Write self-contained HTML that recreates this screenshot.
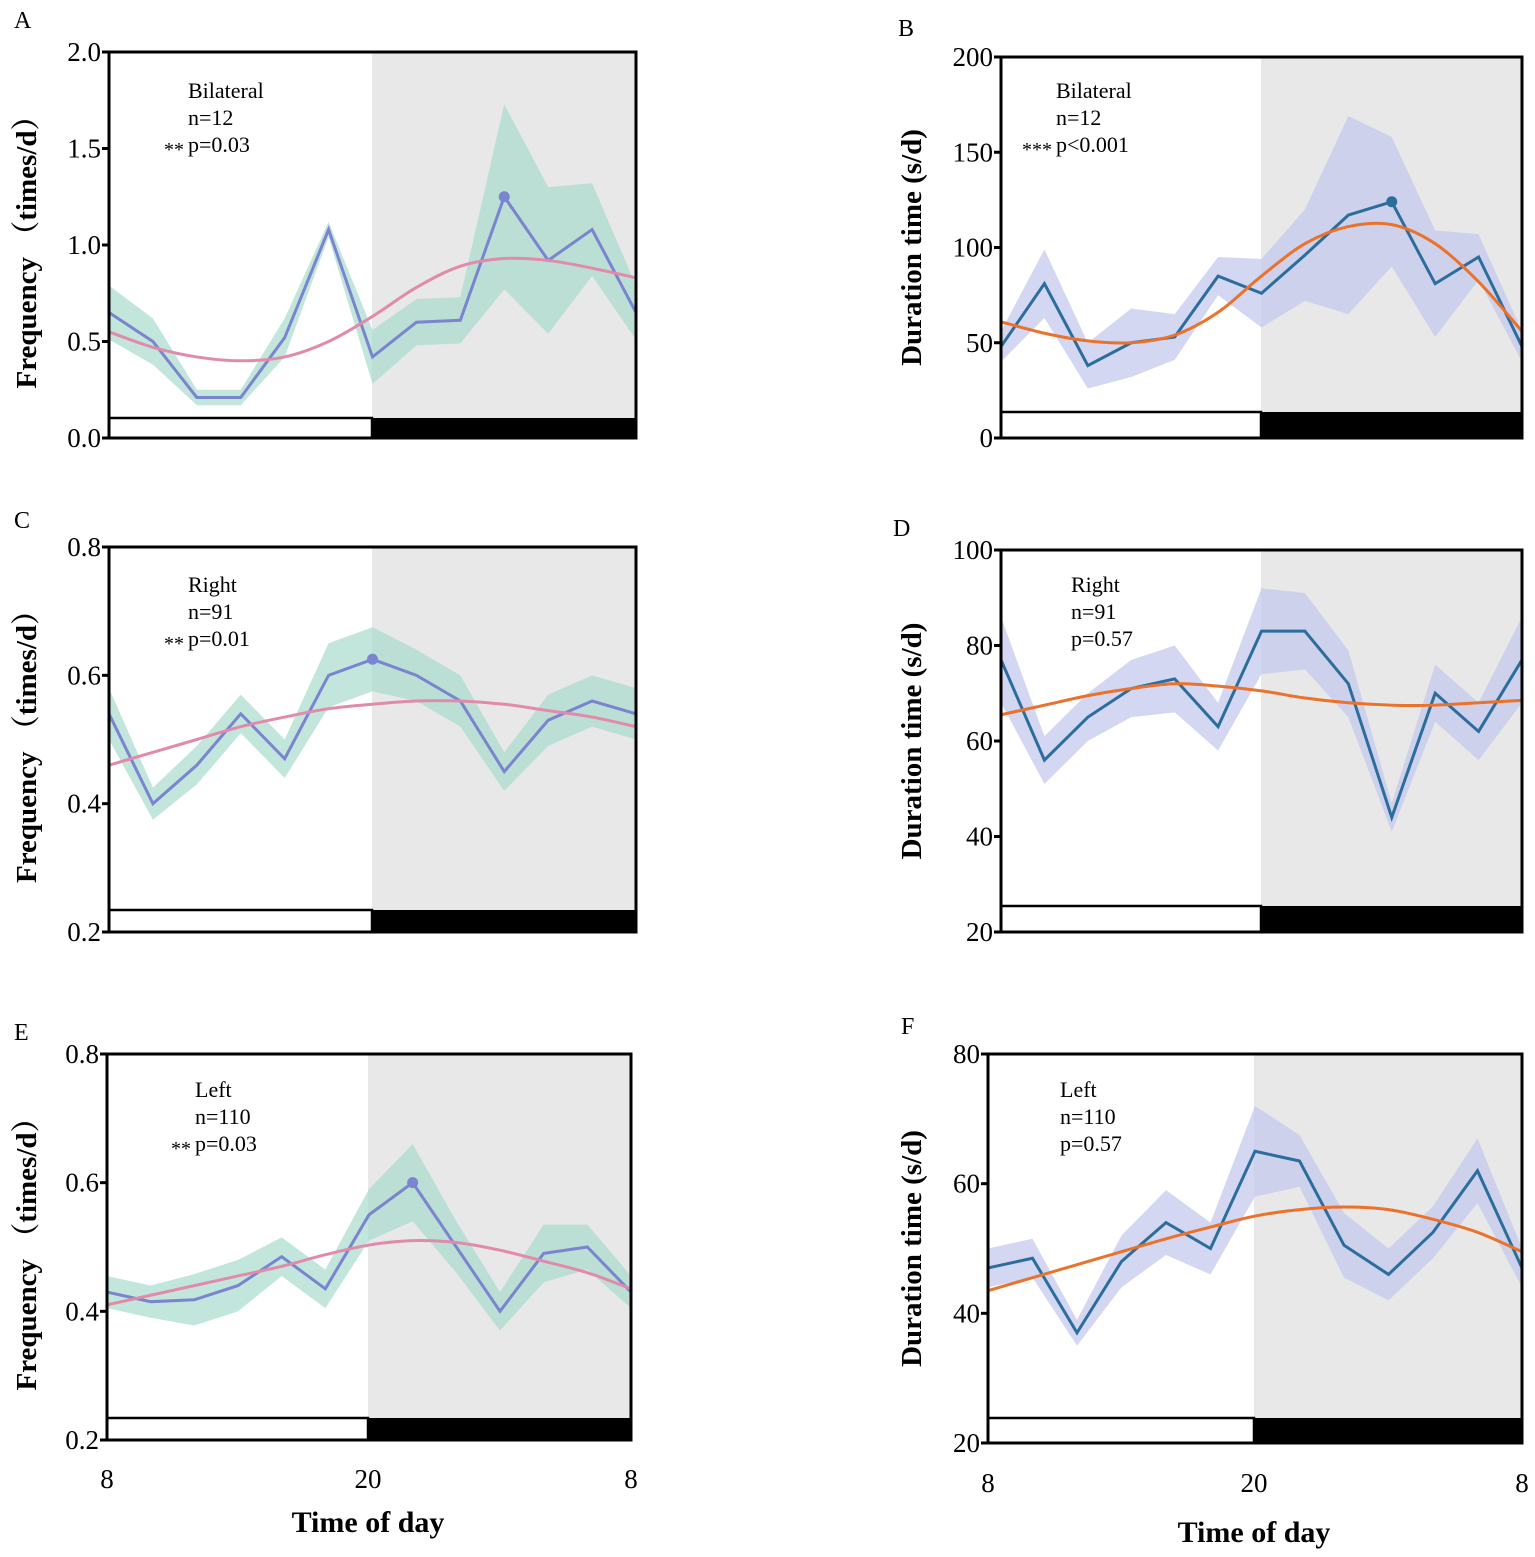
<!DOCTYPE html><html><head><meta charset="utf-8"><style>body{margin:0;background:#fff}svg{display:block}</style></head><body>
<svg id="s" width="1535" height="1557" xmlns="http://www.w3.org/2000/svg" font-family="Liberation Serif, serif"></svg>
<script>
const S=document.getElementById('s');let h='';
const P=[
{x0:109,x1:636,y0:52,y1:438,v0:0,v1:2,ticks:[0,0.5,1,1.5,2],fmt:1,shade:372,bar:418,
 d:[0.65,0.5,0.21,0.21,0.52,1.08,0.42,0.6,0.61,1.25,0.92,1.08,0.65],
 bw:[0.14,0.12,0.04,0.04,0.1,0.04,0.14,0.12,0.12,0.48,0.38,0.24,0.14],
 fit:[0.55,0.47,0.42,0.40,0.42,0.5,0.63,0.78,0.89,0.93,0.92,0.88,0.83],pk:9,A:1,txt:['Bilateral','n=12','p=0.03'],st:'**',tx:188,ty:98,lab:'A',lx:14,ly:28},
{x0:1001,x1:1522,y0:57,y1:438,v0:0,v1:200,ticks:[0,50,100,150,200],fmt:0,shade:1261,bar:412,
 d:[48,81,38,50,53,85,76,96,117,124,81,95,48],
 bw:[8,18,12,18,12,10,18,24,52,34,28,12,8],
 fit:[61,55,51,50,54,66,85,102,111,112,102,82,56],pk:9,A:0,txt:['Bilateral','n=12','p<0.001'],st:'***',tx:1056,ty:98,lab:'B',lx:898,ly:36},
{x0:109,x1:636,y0:547,y1:932,v0:0.2,v1:0.8,ticks:[0.2,0.4,0.6,0.8],fmt:1,shade:372,bar:910,
 d:[0.54,0.40,0.46,0.54,0.47,0.60,0.625,0.60,0.56,0.45,0.53,0.56,0.54],
 bw:[0.04,0.025,0.03,0.03,0.03,0.05,0.05,0.04,0.04,0.03,0.04,0.04,0.04],
 fit:[0.46,0.48,0.50,0.52,0.535,0.548,0.555,0.56,0.56,0.555,0.545,0.535,0.52],pk:6,A:1,txt:['Right','n=91','p=0.01'],st:'**',tx:188,ty:592,lab:'C',lx:14,ly:528},
{x0:1001,x1:1522,y0:550,y1:932,v0:20,v1:100,ticks:[20,40,60,80,100],fmt:0,shade:1261,bar:906,
 d:[77,56,65,71,73,63,83,83,72,44,70,62,77],
 bw:[9,5,5,6,7,5,9,8,7,3,6,6,9],
 fit:[65.5,67.5,69.5,71,72,71.5,70.5,69,68,67.5,67.5,68,68.5],pk:-1,A:0,txt:['Right','n=91','p=0.57'],st:'',tx:1071,ty:592,lab:'D',lx:893,ly:536},
{x0:107,x1:631,y0:1054,y1:1440,v0:0.2,v1:0.8,ticks:[0.2,0.4,0.6,0.8],fmt:1,shade:368,bar:1418,
 d:[0.43,0.415,0.418,0.44,0.485,0.435,0.55,0.60,0.50,0.40,0.49,0.50,0.43],
 bw:[0.025,0.025,0.04,0.04,0.03,0.03,0.04,0.06,0.04,0.03,0.045,0.035,0.025],
 fit:[0.41,0.425,0.44,0.455,0.47,0.488,0.503,0.51,0.507,0.495,0.478,0.46,0.435],pk:7,A:1,txt:['Left','n=110','p=0.03'],st:'**',tx:195,ty:1097,lab:'E',lx:14,ly:1040},
{x0:988,x1:1522,y0:1054,y1:1443,v0:20,v1:80,ticks:[20,40,60,80],fmt:0,shade:1254,bar:1418,
 d:[47,48.5,37,48,54,50,65,63.5,50.5,46,52.5,62,47],
 bw:[3,3,2,4,5,4,7,4,5,4,4,5,3],
 fit:[43.5,45.5,47.5,49.5,51.5,53.3,55,56,56.4,56,54.5,52.5,49.5],pk:-1,A:0,txt:['Left','n=110','p=0.57'],st:'',tx:1060,ty:1097,lab:'F',lx:901,ly:1034},
];
function spline(pts){let s=`M${pts[0][0]},${pts[0][1]}`;for(let i=0;i<pts.length-1;i++){const p0=pts[i-1]||pts[i],p1=pts[i],p2=pts[i+1],p3=pts[i+2]||p2;
s+=` C${p1[0]+(p2[0]-p0[0])/6},${p1[1]+(p2[1]-p0[1])/6} ${p2[0]-(p3[0]-p1[0])/6},${p2[1]-(p3[1]-p1[1])/6} ${p2[0]},${p2[1]}`}return s}
for(const p of P){
 const Y=v=>p.y1-(v-p.v0)/(p.v1-p.v0)*(p.y1-p.y0);
 const W=p.x1-p.x0,X=i=>p.x0+W*i/12;
 h+=`<rect x="${p.shade}" y="${p.y0}" width="${p.x1-p.shade}" height="${p.y1-p.y0}" fill="#e8e8e8"/>`;
 let up=p.d.map((v,i)=>`${X(i)},${Y(v+p.bw[i])}`),dn=p.d.map((v,i)=>`${X(i)},${Y(v-p.bw[i])}`).reverse();
 h+=`<polygon points="${up.concat(dn).join(' ')}" fill="${p.A?'#a8dccd':'#c6c9ec'}" opacity="${p.A?0.7:0.75}"/>`;
 h+=`<polyline points="${p.d.map((v,i)=>X(i)+','+Y(v)).join(' ')}" fill="none" stroke="${p.A?'#7a84cf':'#2b6d9c'}" stroke-width="3"/>`;
 h+=`<path d="${spline(p.fit.map((v,i)=>[X(i),Y(v)]))}" fill="none" stroke="${p.A?'#e18aab':'#ea722a'}" stroke-width="3"/>`;
 if(p.pk>=0)h+=`<circle cx="${X(p.pk)}" cy="${Y(p.d[p.pk])}" r="5.5" fill="${p.A?'#7a84cf':'#2b6d9c'}"/>`;
 h+=`<rect x="${p.x0}" y="${p.bar}" width="${p.shade-p.x0}" height="${p.y1-p.bar}" fill="#fff" stroke="#000" stroke-width="2.5"/>`;
 h+=`<rect x="${p.shade}" y="${p.bar}" width="${p.x1-p.shade}" height="${p.y1-p.bar}" fill="#000"/>`;
 h+=`<rect x="${p.x0}" y="${p.y0}" width="${W}" height="${p.y1-p.y0}" fill="none" stroke="#000" stroke-width="3"/>`;
 for(const t of p.ticks){const y=Y(t);h+=`<line x1="${p.x0-7}" x2="${p.x0}" y1="${y}" y2="${y}" stroke="#000" stroke-width="3"/><text x="${p.x0-8}" y="${y+9}" font-size="27" text-anchor="end">${p.fmt?t.toFixed(1):t}</text>`}
 h+=`<text x="${p.tx}" y="${p.ty}" font-size="22">${p.txt[0]}</text><text x="${p.tx}" y="${p.ty+27}" font-size="22">${p.txt[1]}</text><text x="${p.tx}" y="${p.ty+54}" font-size="22">${p.txt[2]}</text>`;
 if(p.st)h+=`<text x="${p.tx-4}" y="${p.ty+58}" font-size="20" text-anchor="end">${p.st}</text>`;
 h+=`<text x="${p.lx}" y="${p.ly}" font-size="24">${p.lab}</text>`;
 const cy=(p.y0+p.y1)/2,ax=p.A?36:921;
 h+=`<text transform="translate(${ax},${cy}) rotate(-90)" font-size="29" font-weight="bold" text-anchor="middle" font-family="Liberation Serif, Noto Serif CJK SC, serif">${p.A?'Frequency （times/d）':'Duration time (s/d)'}</text>`;
}
for(const [x0,x1,x2,y,ty] of [[107,368,631,1488,1532],[988,1254,1522,1492,1542]]){
 h+=`<text x="${x0}" y="${y}" font-size="27" text-anchor="middle">8</text><text x="${x1}" y="${y}" font-size="27" text-anchor="middle">20</text><text x="${x2}" y="${y}" font-size="27" text-anchor="middle">8</text>`;
 h+=`<text x="${x1}" y="${ty}" font-size="30" font-weight="bold" text-anchor="middle">Time of day</text>`;
}
S.innerHTML=h;
</script></body></html>
